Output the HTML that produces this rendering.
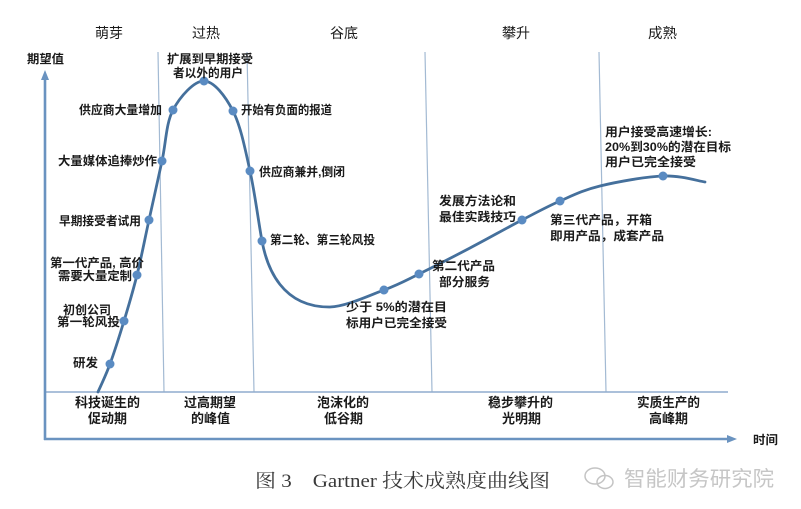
<!DOCTYPE html>
<html><head><meta charset="utf-8"><style>
html,body{margin:0;padding:0;background:#fff;}
svg{display:block;}
.l{font-family:"Liberation Sans","Noto Sans CJK SC",sans-serif;font-size:12px;font-weight:bold;fill:#1a1a1a;}
.h{font-family:"Liberation Sans","Noto Sans CJK SC",sans-serif;font-size:14px;fill:#1a1a1a;}
.b{font-family:"Liberation Sans","Noto Sans CJK SC",sans-serif;font-size:13px;font-weight:bold;fill:#1a1a1a;}
</style></head><body>
<svg width="801" height="509" viewBox="0 0 801 509" xmlns="http://www.w3.org/2000/svg">
<rect width="801" height="509" fill="#fff"/>
<!-- vertical dividers -->
<g stroke="#a3bad3" stroke-width="1.2">
<line x1="158" y1="52" x2="164" y2="392"/>
<line x1="247" y1="52" x2="254" y2="392"/>
<line x1="425" y1="52" x2="432" y2="392"/>
<line x1="599" y1="52" x2="606" y2="392"/>
</g>
<line x1="45" y1="392" x2="728" y2="392" stroke="#8faccd" stroke-width="1.6"/>
<!-- axes -->
<line x1="45" y1="440" x2="45" y2="78" stroke="#6a93c0" stroke-width="2.6"/>
<polygon points="45,70 41,80 49,80" fill="#6a93c0"/>
<line x1="44" y1="439" x2="728" y2="439" stroke="#6a93c0" stroke-width="2.6"/>
<polygon points="737,439 727,435 727,443" fill="#6a93c0"/>
<!-- curve -->
<path fill="none" stroke="#45709c" stroke-width="2.8" stroke-linecap="round" d="M98,392
C100,387.3 105.7,375.8 110,364
C114.3,352.2 119.5,335.8 124,321
C128.5,306.2 132.8,291.8 137,275
C141.2,258.2 144.8,239 149,220
C153.2,201 158,179.3 162,161
C166,142.7 166,123.3 173,110
C180,96.7 194,80.8 204,81
C214,81.2 225.3,96 233,111
C240.7,126 245.2,149.3 250,171
C254.8,192.7 258.7,223.5 262,241
C267,268 282,307.5 330,307
C345.7,306.6 369.2,295.5 384,290
C398.8,284.5 404.7,281 419,274
C433.3,267 452.8,257 470,248
C487.2,239 507,227.8 522,220
C537,212.2 547,206.7 560,201
C573,195.3 582.8,190.2 600,186
C617.2,181.8 645.5,176.7 663,176
C680.5,175.3 698,181 705,182"/>
<!-- dots -->
<g fill="#5a8bc2">
<circle cx="110" cy="364" r="4.5"/>
<circle cx="124" cy="321" r="4.5"/>
<circle cx="137" cy="275" r="4.5"/>
<circle cx="149" cy="220" r="4.5"/>
<circle cx="162" cy="161" r="4.5"/>
<circle cx="173" cy="110" r="4.5"/>
<circle cx="204" cy="81" r="4.5"/>
<circle cx="233" cy="111" r="4.5"/>
<circle cx="250" cy="171" r="4.5"/>
<circle cx="262" cy="241" r="4.5"/>
<circle cx="384" cy="290" r="4.5"/>
<circle cx="419" cy="274" r="4.5"/>
<circle cx="522" cy="220" r="4.5"/>
<circle cx="560" cy="201" r="4.5"/>
<circle cx="663" cy="176" r="4.5"/>
</g>
<!-- headers -->
<text class="h" x="95" y="38" textLength="28" lengthAdjust="spacingAndGlyphs">萌芽</text>
<text class="h" x="192" y="38" textLength="28" lengthAdjust="spacingAndGlyphs">过热</text>
<text class="h" x="330" y="38" textLength="28" lengthAdjust="spacingAndGlyphs">谷底</text>
<text class="h" x="502" y="38" textLength="28" lengthAdjust="spacingAndGlyphs">攀升</text>
<text class="h" x="648" y="38" textLength="29" lengthAdjust="spacingAndGlyphs">成熟</text>
<text class="l" x="27" y="63" textLength="37" lengthAdjust="spacingAndGlyphs">期望值</text>
<text class="l" x="753" y="444" textLength="25" lengthAdjust="spacingAndGlyphs">时间</text>
<!-- labels -->
<text class="l" x="73" y="367" textLength="25" lengthAdjust="spacingAndGlyphs">研发</text>
<text class="l" x="63" y="314" textLength="48" lengthAdjust="spacingAndGlyphs">初创公司</text>
<text class="l" x="57" y="326" textLength="63" lengthAdjust="spacingAndGlyphs">第一轮风投</text>
<text class="l" x="50" y="267" textLength="94" lengthAdjust="spacingAndGlyphs">第一代产品, 高价</text>
<text class="l" x="58" y="280" textLength="74" lengthAdjust="spacingAndGlyphs">需要大量定制</text>
<text class="l" x="59" y="225" textLength="82" lengthAdjust="spacingAndGlyphs">早期接受者试用</text>
<text class="l" x="58" y="165" textLength="99" lengthAdjust="spacingAndGlyphs">大量媒体追捧炒作</text>
<text class="l" x="79" y="114" textLength="83" lengthAdjust="spacingAndGlyphs">供应商大量增加</text>
<text class="l" x="167" y="63" textLength="86" lengthAdjust="spacingAndGlyphs">扩展到早期接受</text>
<text class="l" x="173" y="77" textLength="70" lengthAdjust="spacingAndGlyphs">者以外的用户</text>
<text class="l" x="241" y="114" textLength="91" lengthAdjust="spacingAndGlyphs">开始有负面的报道</text>
<text class="l" x="259" y="176" textLength="86" lengthAdjust="spacingAndGlyphs">供应商兼并,倒闭</text>
<text class="l" x="270" y="244" textLength="105" lengthAdjust="spacingAndGlyphs">第二轮、第三轮风投</text>
<text class="l" x="346" y="311" textLength="101" lengthAdjust="spacingAndGlyphs">少于 5%的潜在目</text>
<text class="l" x="346" y="327" textLength="101" lengthAdjust="spacingAndGlyphs">标用户已完全接受</text>
<text class="l" x="432" y="270" textLength="63" lengthAdjust="spacingAndGlyphs">第二代产品</text>
<text class="l" x="439" y="286" textLength="51" lengthAdjust="spacingAndGlyphs">部分服务</text>
<text class="l" x="439" y="205" textLength="77" lengthAdjust="spacingAndGlyphs">发展方法论和</text>
<text class="l" x="439" y="221" textLength="77" lengthAdjust="spacingAndGlyphs">最佳实践技巧</text>
<text class="l" x="550" y="224" textLength="102" lengthAdjust="spacingAndGlyphs">第三代产品，开箱</text>
<text class="l" x="550" y="240" textLength="114" lengthAdjust="spacingAndGlyphs">即用产品，成套产品</text>
<text class="l" x="605" y="136" textLength="107" lengthAdjust="spacingAndGlyphs">用户接受高速增长:</text>
<text class="l" x="605" y="151" textLength="126" lengthAdjust="spacingAndGlyphs">20%到30%的潜在目标</text>
<text class="l" x="605" y="166" textLength="91" lengthAdjust="spacingAndGlyphs">用户已完全接受</text>
<!-- bottom phase labels -->
<text class="b" x="75" y="407" textLength="65" lengthAdjust="spacingAndGlyphs">科技诞生的</text>
<text class="b" x="88" y="423" textLength="39" lengthAdjust="spacingAndGlyphs">促动期</text>
<text class="b" x="184" y="407" textLength="52" lengthAdjust="spacingAndGlyphs">过高期望</text>
<text class="b" x="191" y="423" textLength="39" lengthAdjust="spacingAndGlyphs">的峰值</text>
<text class="b" x="317" y="407" textLength="52" lengthAdjust="spacingAndGlyphs">泡沫化的</text>
<text class="b" x="324" y="423" textLength="39" lengthAdjust="spacingAndGlyphs">低谷期</text>
<text class="b" x="488" y="407" textLength="65" lengthAdjust="spacingAndGlyphs">稳步攀升的</text>
<text class="b" x="502" y="423" textLength="39" lengthAdjust="spacingAndGlyphs">光明期</text>
<text class="b" x="637" y="407" textLength="63" lengthAdjust="spacingAndGlyphs">实质生产的</text>
<text class="b" x="649" y="423" textLength="39" lengthAdjust="spacingAndGlyphs">高峰期</text>
<!-- caption -->
<text x="255" y="487" font-family="'Liberation Serif','Noto Serif CJK SC',serif" font-size="19" fill="#3a3a3a" textLength="295" lengthAdjust="spacingAndGlyphs">图 3　Gartner 技术成熟度曲线图</text>
<!-- watermark -->
<g fill="none" stroke="#c4c4c4" stroke-width="1.5">
<ellipse cx="595" cy="476" rx="10" ry="8"/>
<ellipse cx="605" cy="482" rx="8" ry="6.5"/>
</g>
<text x="624" y="486" font-family="'Liberation Sans','Noto Sans CJK SC',sans-serif" font-size="21" fill="#c6c6c6" textLength="150" lengthAdjust="spacingAndGlyphs">智能财务研究院</text>
</svg>
</body></html>
